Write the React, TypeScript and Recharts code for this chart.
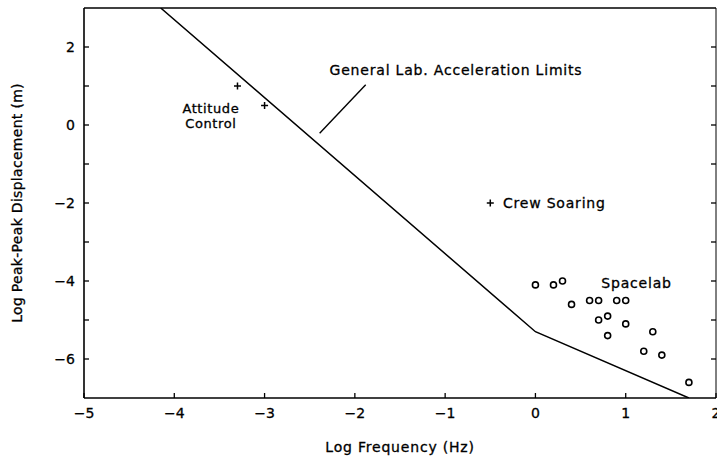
import { ComposedChart, XAxis, YAxis, Scatter, Label } from 'recharts';

const xTicks = [-5, -4, -3, -2, -1, 0, 1, 2];
const yTicks = [-6, -5, -4, -3, -2, -1, 0, 1, 2];

// general lab acceleration limit curve (log f, log disp)
const limitLine = [
  { x: -4.15, y: 3 },
  { x: 0, y: -5.3 },
  { x: 1.7, y: -7 },
];

const attitude = [
  { x: -3.3, y: 1.0 },
  { x: -3.0, y: 0.5 },
];

const crew = [{ x: -0.5, y: -2.0 }];

const spacelab = [
  { x: 0.0, y: -4.1 },
  { x: 0.2, y: -4.1 },
  { x: 0.3, y: -4.0 },
  { x: 0.4, y: -4.6 },
  { x: 0.6, y: -4.5 },
  { x: 0.7, y: -4.5 },
  { x: 0.9, y: -4.5 },
  { x: 1.0, y: -4.5 },
  { x: 0.7, y: -5.0 },
  { x: 0.8, y: -4.9 },
  { x: 1.0, y: -5.1 },
  { x: 0.8, y: -5.4 },
  { x: 1.3, y: -5.3 },
  { x: 1.2, y: -5.8 },
  { x: 1.4, y: -5.9 },
  { x: 1.7, y: -6.6 },
];

const pointer = [
  { x: -2.39, y: -0.21 },
  { x: -1.88, y: 1.03 },
];

const notes = [
  { x: -2.28, y: 1.41, text: 'General Lab. Acceleration Limits', anchor: 'start' },
  { x: -3.595, y: 0.43, text: 'Attitude', anchor: 'middle' },
  { x: -3.595, y: 0.05, text: 'Control', anchor: 'middle' },
  { x: -0.36, y: -2.0, text: 'Crew Soaring', anchor: 'start' },
  { x: 0.73, y: -4.05, text: 'Spacelab', anchor: 'start' },
];

const font = '"DejaVu Sans", sans-serif';
const txt = {
  fontSize: 14,
  fontFamily: font,
  fill: '#000',
  stroke: '#000',
  strokeWidth: 0.3,
  letterSpacing: 0.8,
};
const minus = (v: number) => String(v).replace('-', '\u2212');

const BottomTick = (p: any) => (
  <g>
    <line x1={p.x} y1={p.y} x2={p.x} y2={p.y - 5} stroke="#000" strokeWidth={1.3} />
    <text x={p.x} y={p.y + 20} textAnchor="middle" {...txt} letterSpacing={0}>
      {minus(p.payload.value)}
    </text>
  </g>
);

const TopTick = (p: any) => (
  <line x1={p.x} y1={p.y} x2={p.x} y2={p.y + 5} stroke="#000" strokeWidth={1.3} />
);

const LeftTick = (p: any) => {
  const v = p.payload.value;
  return (
    <g>
      <line x1={p.x} y1={p.y} x2={p.x + 5} y2={p.y} stroke="#000" strokeWidth={1.3} />
      {v % 2 === 0 && (
        <text x={p.x - 9} y={p.y + 5} textAnchor="end" {...txt} letterSpacing={0}>
          {minus(v)}
        </text>
      )}
    </g>
  );
};

const RightTick = (p: any) => (
  <line x1={p.x} y1={p.y} x2={p.x - 5} y2={p.y} stroke="#000" strokeWidth={1.3} />
);

const Plus = (p: any) => (
  <g stroke="#000" strokeWidth={1.5}>
    <line x1={p.cx - 3.5} y1={p.cy} x2={p.cx + 3.5} y2={p.cy} />
    <line x1={p.cx} y1={p.cy - 3.5} x2={p.cx} y2={p.cy + 3.5} />
  </g>
);

const Ring = (p: any) => (
  <circle cx={p.cx} cy={p.cy} r={3} fill="none" stroke="#000" strokeWidth={1.6} />
);

// the two-line "Attitude Control" note is set a touch smaller, like the original
const Note = (p: any) => {
  const stacked = p.payload.anchor === 'middle';
  return (
    <text
      x={p.cx}
      y={p.cy + 5}
      textAnchor={p.payload.anchor}
      {...txt}
      fontSize={stacked ? 13 : 14}
      letterSpacing={stacked ? 0.6 : 0.8}
    >
      {p.payload.text}
    </text>
  );
};

const Nothing = () => <g />;

export default function App() {
  return (
    <div style={{ position: 'absolute', left: 0, top: 0, background: '#fff' }}>
      <ComposedChart
        width={717}
        height={458}
        margin={{ top: 0, right: 0, bottom: 0, left: 0 }}
      >
        <XAxis
          xAxisId={0}
          dataKey="x"
          type="number"
          domain={[-5, 2]}
          ticks={xTicks}
          height={60}
          tickSize={0}
          tickMargin={0}
          tickLine={false}
          tick={<BottomTick />}
          axisLine={{ stroke: '#000', strokeWidth: 1.6 }}
          allowDataOverflow
          interval={0}
        >
          <Label value="Log Frequency (Hz)" position="insideBottom" offset={6} style={txt} />
        </XAxis>
        <XAxis
          xAxisId="top"
          orientation="top"
          type="number"
          domain={[-5, 2]}
          ticks={xTicks}
          height={8}
          tickSize={0}
          tickMargin={0}
          tickLine={false}
          tick={<TopTick />}
          axisLine={{ stroke: '#000', strokeWidth: 1.6 }}
          allowDataOverflow
          interval={0}
        />
        <YAxis
          yAxisId={0}
          dataKey="y"
          type="number"
          domain={[-7, 3]}
          ticks={yTicks}
          width={84}
          tickSize={0}
          tickMargin={0}
          tickLine={false}
          tick={<LeftTick />}
          axisLine={{ stroke: '#000', strokeWidth: 1.6 }}
          allowDataOverflow
          interval={0}
        >
          <Label
            value="Log Peak-Peak Displacement (m)"
            angle={-90}
            position="insideLeft"
            offset={17}
            style={{ ...txt, letterSpacing: 0.3, textAnchor: 'middle' }}
          />
        </YAxis>
        <YAxis
          yAxisId="right"
          orientation="right"
          type="number"
          domain={[-7, 3]}
          ticks={yTicks}
          width={1}
          tickSize={0}
          tickMargin={0}
          tickLine={false}
          tick={<RightTick />}
          axisLine={{ stroke: '#000', strokeWidth: 1 }}
          allowDataOverflow
          interval={0}
        />
        <Scatter
          data={limitLine}
          line={{ stroke: '#000', strokeWidth: 1.5 }}
          shape={<Nothing />}
          isAnimationActive={false}
        />
        <Scatter
          data={pointer}
          line={{ stroke: '#000', strokeWidth: 1.4 }}
          shape={<Nothing />}
          isAnimationActive={false}
        />
        <Scatter data={attitude} shape={<Plus />} isAnimationActive={false} />
        <Scatter data={crew} shape={<Plus />} isAnimationActive={false} />
        <Scatter data={spacelab} shape={<Ring />} isAnimationActive={false} />
        <Scatter data={notes} shape={<Note />} isAnimationActive={false} />
      </ComposedChart>
    </div>
  );
}
